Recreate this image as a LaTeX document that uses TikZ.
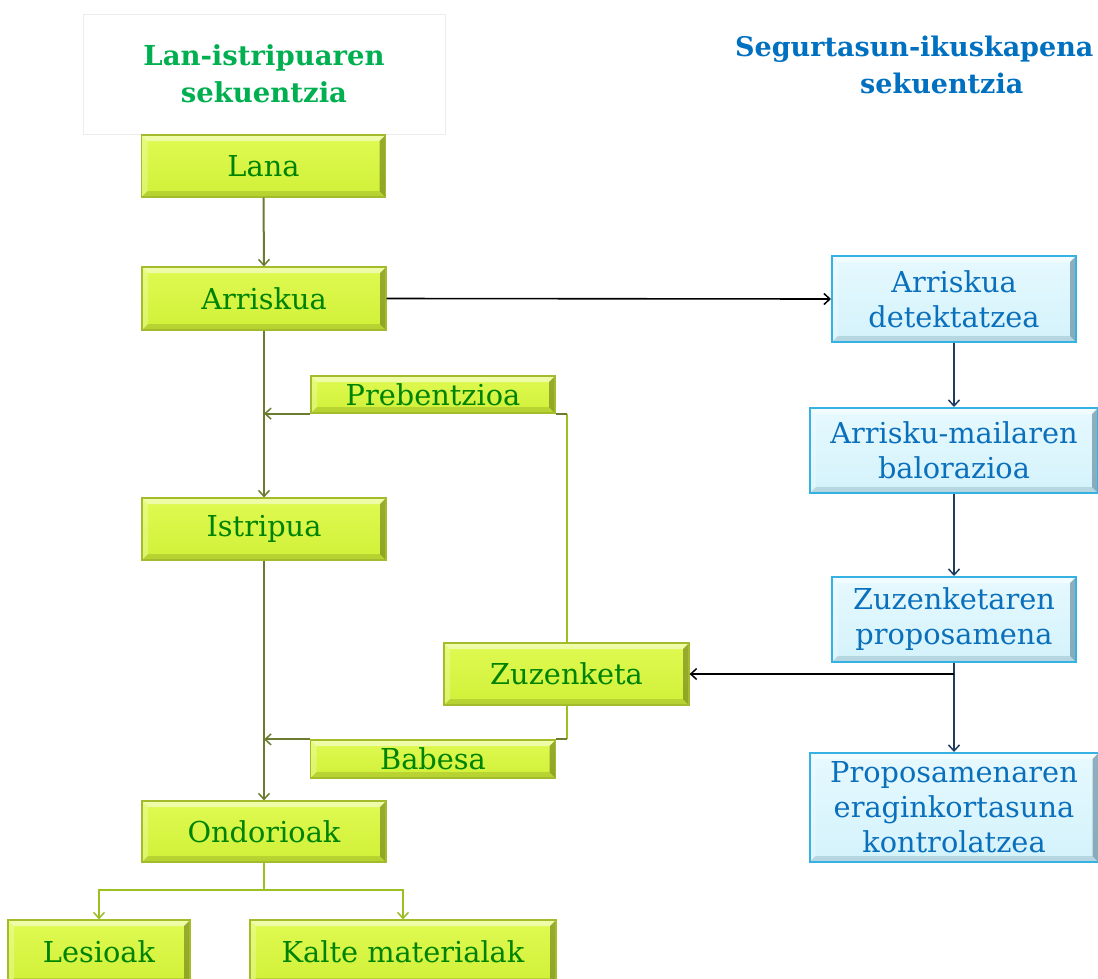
\documentclass[tikz,border=0pt]{standalone}
\usepackage{fontspec}
\setmainfont{DejaVu Serif}
\usetikzlibrary{arrows.meta,calc}

\definecolor{limeTop}{HTML}{E0FA52}
\definecolor{limeBot}{HTML}{D0F038}
\definecolor{limeEdge}{HTML}{A2BC2C}
\definecolor{limeShade}{HTML}{5E6A14}
\definecolor{txtGreen}{HTML}{008300}
\definecolor{skyTop}{HTML}{E6F9FE}
\definecolor{skyBot}{HTML}{D4F2FB}
\definecolor{skyEdge}{HTML}{35B2E2}
\definecolor{skyShade}{HTML}{4A7388}
\definecolor{txtBlue}{HTML}{0A70BC}
\definecolor{titleGreen}{HTML}{00B050}
\definecolor{titleBlue}{HTML}{0070C0}
\definecolor{stemOlive}{HTML}{6B7B30}
\definecolor{linkLime}{HTML}{9CBF22}
\definecolor{navyLink}{HTML}{1F3D5C}

\tikzset{
  x=1pt, y=-1pt,
  shade colour/.store in=\bevelshade, shade colour=black,
  boxfont/.style={font=\fontsize{28.8}{35}\selectfont},
  bevel/.style={path picture={
    \path (path picture bounding box.north west) coordinate (pw)
          (path picture bounding box.south east) coordinate (pe);
    % light top and left faces
    \fill[white,opacity=.50] (pw) -- (pw -| pe) -- ($(pw -| pe)+(-#1,#1)$) -- ($(pw)+(#1,#1)$) -- cycle;
    \fill[white,opacity=.25] (pw) -- ($(pw)+(#1,#1)$) -- ($(pw |- pe)+(#1,-#1)$) -- (pw |- pe) -- cycle;
    % shaded bottom and right faces
    \fill[\bevelshade,opacity=.22] (pw |- pe) -- (pe) -- ($(pe)+(-#1,-#1)$) -- ($(pw |- pe)+(#1,-#1)$) -- cycle;
    \fill[\bevelshade,opacity=.55] (pe) -- (pw -| pe) -- ($(pw -| pe)+(-#1,#1)$) -- ($(pe)+(-#1,-#1)$) -- cycle;
  }},
  greenbox/.style={rectangle, inner sep=0pt, draw=limeEdge, line width=1.2pt,
    top color=limeTop, bottom color=limeBot, shade colour=limeShade, bevel=6,
    text=txtGreen, boxfont, align=center},
  bluebox/.style={rectangle, inner sep=0pt, draw=skyEdge, line width=2pt,
    top color=skyTop, bottom color=skyBot, shade colour=skyShade, bevel=6,
    text=txtBlue, boxfont, align=center},
  titlefont/.style={font=\fontsize{#1}{37}\selectfont\bfseries},
  tip/.style={-{Straight Barb[length=6pt,width=11pt,line width=1.5pt]}},
  stem/.style={draw=stemOlive, line width=2pt},
  limelink/.style={draw=linkLime, line width=2pt},
  navylink/.style={draw=navyLink, line width=2pt},
  blacklink/.style={draw=black, line width=1.6pt},
}

\begin{document}
\begin{tikzpicture}
\useasboundingbox[fill=white] (0,0) rectangle (1098,978);

% headings
\node[rectangle, draw=gray!15, line width=1pt, fill=white,
      minimum width=362pt, minimum height=120pt, inner sep=0pt,
      titlefont=27.5, text=titleGreen, align=center] (head1) at (264,74)
      {Lan-istripuaren\\sekuentzia};
\node[titlefont=27, text=titleBlue, align=left, anchor=west, inner sep=0pt]
      (head2) at (735,65) {Segurtasun-ikuskapena\\\hspace*{125pt}sekuentzia};

% accident sequence
\node[greenbox, minimum width=244pt, minimum height=62pt] (lana) at (263.5,166) {Lana};
\node[greenbox, minimum width=244pt, minimum height=63pt] (arr)  at (264,298.5) {Arriskua};
\node[greenbox, minimum width=244pt, minimum height=37pt] (preb) at (433,394.5) {Prebentzioa};
\node[greenbox, minimum width=244pt, minimum height=62pt] (ist)  at (264,529) {Istripua};
\node[greenbox, minimum width=245pt, minimum height=62pt] (zuz)  at (566.5,674) {Zuzenketa};
\node[greenbox, minimum width=245pt, minimum height=38pt] (bab)  at (433,759) {Babesa};
\node[greenbox, minimum width=244pt, minimum height=61pt] (ond)  at (264,831.5) {Ondorioak};
\node[greenbox, minimum width=182pt, minimum height=64pt] (les)  at (99,952) {Lesioak};
\node[greenbox, minimum width=306pt, minimum height=64pt] (kal)  at (403,952) {Kalte materialak};

% inspection sequence
\node[bluebox, minimum width=244pt, minimum height=86pt] (det)  at (954,299) {Arriskua\\detektatzea};
\node[bluebox, minimum width=288pt, minimum height=85pt] (bal)  at (954,450.5) {Arrisku-mailaren\\balorazioa};
\node[bluebox, minimum width=244pt, minimum height=85pt] (prop) at (954,619.5) {Zuzenketaren\\proposamena};
\node[bluebox, minimum width=289pt, minimum height=109pt] (kon) at (954,807.5) {Proposamenaren\\eraginkortasuna\\kontrolatzea};

% main stem
\draw[stem,tip] (lana.south) -- (arr.north);
\draw[stem,tip] (arr.south) -- (ist.north);
\draw[stem,tip] (ist.south) -- (ond.north);

% prevention and protection feed back into the stem
\draw[limelink] (zuz.north) -- (zuz.north |- preb.south);
\draw[stem] (zuz.north |- preb.south) -- (preb.south east);
\draw[stem,tip] (preb.south west) -- (ist.north |- preb.south);
\draw[limelink] (zuz.south) -- (zuz.south |- bab.north);
\draw[stem] (zuz.south |- bab.north) -- (bab.north east);
\draw[stem,tip] (bab.north west) -- (ist.south |- bab.north);

% consequences
\coordinate (split) at (264,890);
\draw[limelink] (ond.south) -- (split);
\draw[limelink,tip] (split) -| (les.north);
\draw[limelink,tip] (split) -| (kal.north);

% inspection chain
\draw[blacklink,tip] (arr.east) -- (det.west);
\draw[navylink,tip] (det.south) -- (bal.north);
\draw[navylink,tip] (bal.south) -- (prop.north);
\draw[navylink,tip] (prop.south) -- (kon.north);
\draw[blacklink,tip] (prop.south |- zuz.east) -- (zuz.east);
\end{tikzpicture}
\end{document}
